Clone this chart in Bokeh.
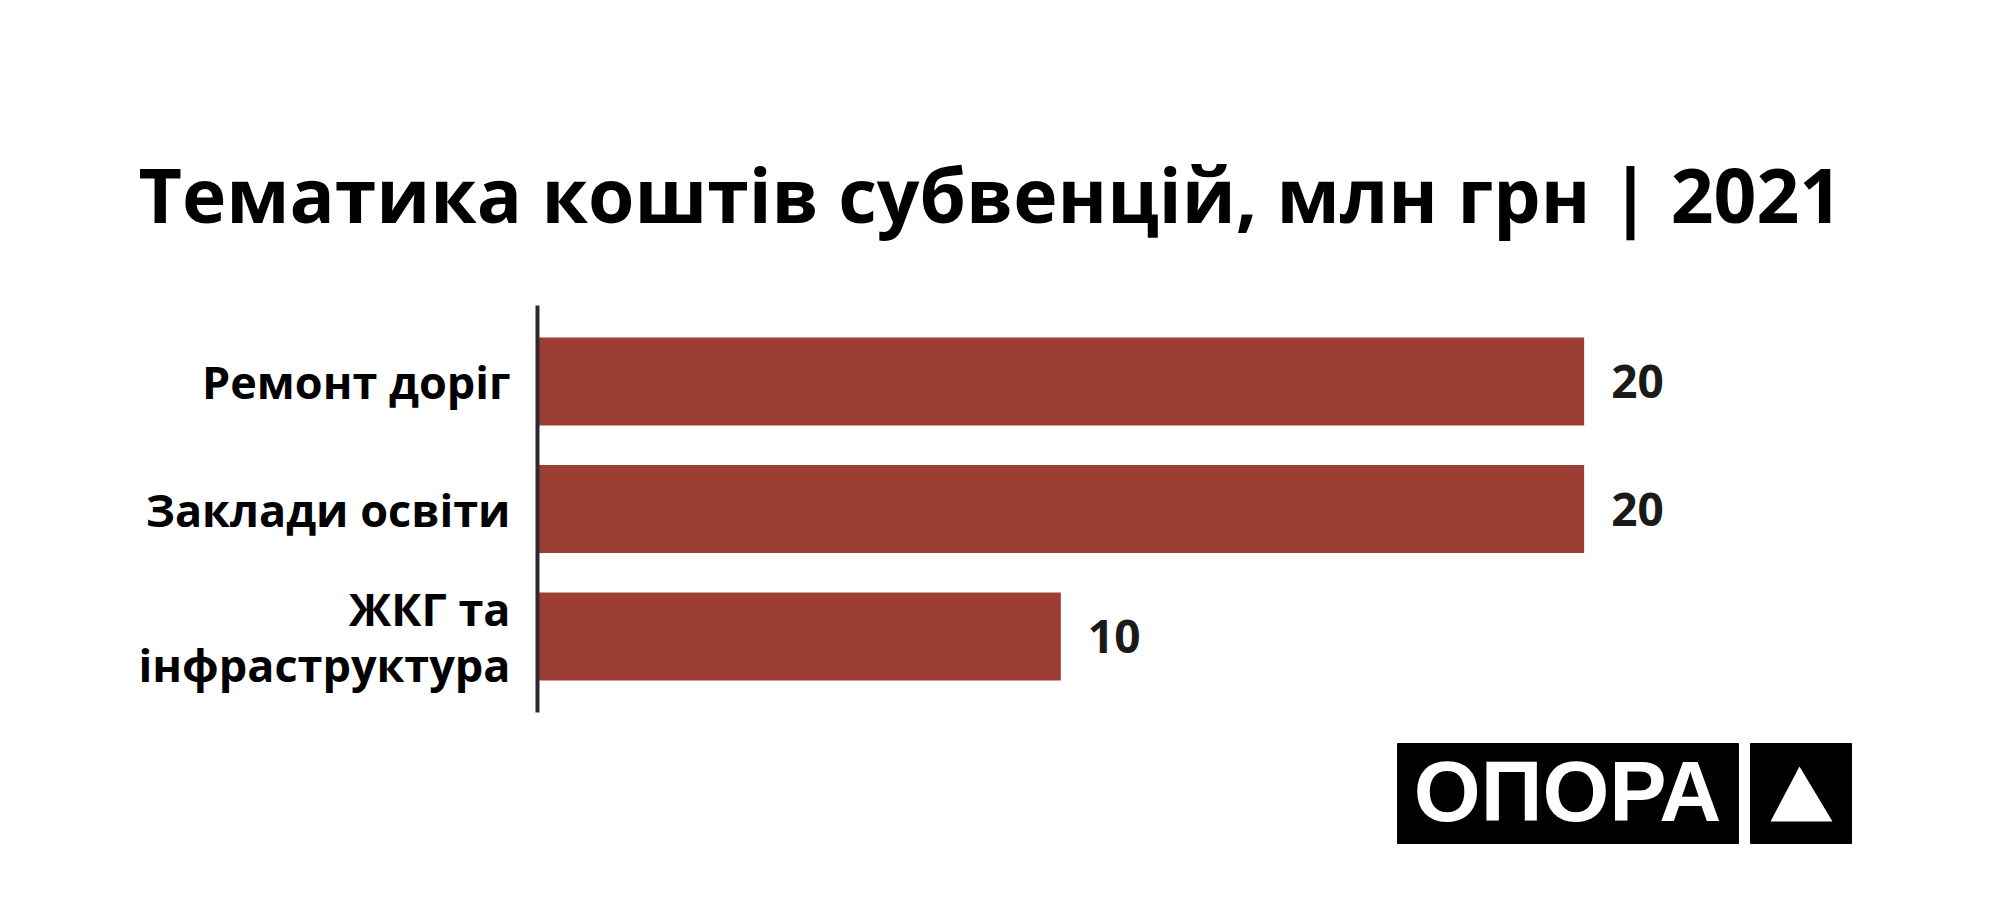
from bokeh.plotting import figure
from bokeh.models import ColumnDataSource, FactorRange, Range1d, Title
from bokeh.core.properties import value
from bokeh.layouts import column
from bokeh.embed import file_html
from bokeh.resources import INLINE

title_text = "Тематика коштів субвенцій, млн грн | 2021"
categories = ["Ремонт доріг", "Заклади освіти", "ЖКГ та\nінфраструктура"]
values = [20, 20, 10]
value_labels = ["20", "20", "10"]

bar_color = "#9d3e35"
font = "Open Sans"

source = ColumnDataSource(data=dict(cat=categories, val=values, lbl=value_labels))

p = figure(width=1984, height=735, output_backend="svg", toolbar_location=None,
           y_range=FactorRange(factors=categories[::-1], range_padding=0.064),
           x_range=Range1d(0, 27),
           min_border_left=537, min_border_right=34, min_border_top=305, min_border_bottom=23)
p.title = Title(text=title_text, align="left", offset=-399, standoff=122,
                text_font=font, text_font_style="bold", text_font_size="75px", text_color="black")

p.hbar(y="cat", right="val", left=0, height=0.69, source=source, color=bar_color, line_color=None)
p.text(x="val", y="cat", text="lbl", source=source, x_offset=27, text_baseline="middle",
       text_font=value(font), text_font_style="bold", text_font_size="46px", text_color="#1a1a1a")

p.xaxis.visible = False
p.xgrid.grid_line_color = None
p.ygrid.grid_line_color = None
p.outline_line_color = None
p.yaxis.axis_line_width = 4
p.yaxis.axis_line_color = "#2b2b2b"
p.yaxis.major_tick_line_color = None
p.yaxis.minor_tick_line_color = None
p.yaxis.major_label_standoff = 21
p.yaxis.major_label_text_font = font
p.yaxis.major_label_text_font_style = "bold"
p.yaxis.major_label_text_font_size = "45px"
p.yaxis.major_label_text_line_height = 0.92
p.yaxis.major_label_text_color = "black"

# logo strip under the chart (frame lines up with the chart frame, x in pixels)
logo = figure(width=1984, height=146, output_backend="svg", toolbar_location=None,
              x_range=Range1d(537, 1950), y_range=Range1d(0, 146),
              min_border_left=537, min_border_right=34, min_border_top=0, min_border_bottom=0)
logo.axis.visible = False
logo.grid.visible = False
logo.outline_line_color = None
logo.quad(left=[1397, 1750], right=[1738, 1851], bottom=[38, 38], top=[138, 138], color="black")
logo.patch(x=[1770, 1799, 1832], y=[60, 115, 60], color="white", line_color=None)
logo.text(x=[1567], y=[91], text=["ОПОРА"], text_align="center", text_baseline="alphabetic",
          text_font=value("Liberation Sans"), text_font_style="bold", text_font_size="86px",
          text_color="white")

layout = column(p, logo, spacing=0)
open("out.html", "w").write(file_html(layout, INLINE))
